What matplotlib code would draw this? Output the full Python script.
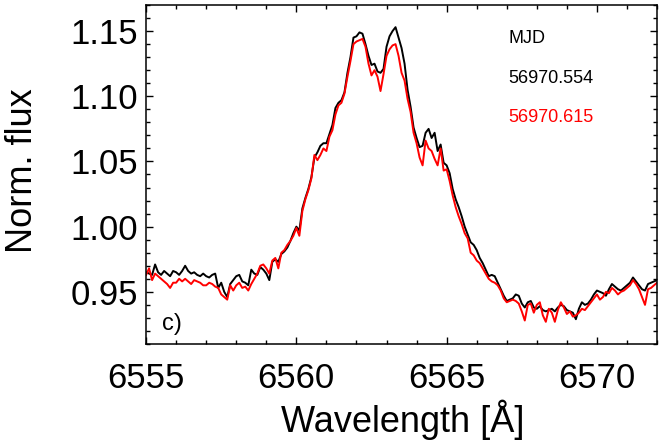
import numpy as np
import matplotlib
matplotlib.use("Agg")
import matplotlib.pyplot as plt
from matplotlib.ticker import MultipleLocator

# wavelength grid (Angstrom), 0.1 A sampling
wave = np.round(np.arange(6555.0, 6572.05, 0.1), 1)

# MJD 56970.554 (black)
flux_554 = [
    0.965, 0.964, 0.963, 0.971, 0.965, 0.963, 0.966, 0.964, 0.962, 0.966,
    0.965, 0.963, 0.966, 0.970, 0.966, 0.964, 0.965, 0.963, 0.962, 0.964,
    0.962, 0.961, 0.963, 0.964, 0.953, 0.957, 0.950, 0.946, 0.956, 0.959,
    0.962, 0.963, 0.958, 0.957, 0.955, 0.967, 0.964, 0.963, 0.969, 0.967,
    0.964, 0.959, 0.973, 0.975, 0.973, 0.979, 0.981, 0.984, 0.989, 0.995,
    1.000, 0.997, 1.014, 1.022, 1.029, 1.038, 1.053, 1.057, 1.062, 1.064,
    1.064, 1.071, 1.078, 1.091, 1.095, 1.097, 1.103, 1.118, 1.130, 1.145,
    1.146, 1.149, 1.148, 1.140, 1.131, 1.124, 1.125, 1.119, 1.118, 1.121,
    1.138, 1.146, 1.150, 1.153, 1.145, 1.137, 1.125, 1.105, 1.092, 1.076,
    1.068, 1.061, 1.062, 1.072, 1.075, 1.068, 1.072, 1.058, 1.063, 1.049,
    1.047, 1.041, 1.029, 1.021, 1.015, 1.008, 1.000, 0.994, 0.988, 0.986,
    0.982, 0.976, 0.972, 0.967, 0.962, 0.963, 0.962, 0.957, 0.952, 0.947,
    0.943, 0.944, 0.945, 0.948, 0.947, 0.941, 0.938, 0.942, 0.943, 0.938,
    0.937, 0.939, 0.936, 0.935, 0.936, 0.937, 0.935, 0.938, 0.940, 0.939,
    0.936, 0.935, 0.934, 0.929, 0.937, 0.942, 0.940, 0.941, 0.944, 0.948,
    0.951, 0.950, 0.949, 0.947, 0.952, 0.956, 0.954, 0.952, 0.951, 0.953,
    0.955, 0.957, 0.961, 0.958, 0.955, 0.952, 0.951, 0.956, 0.957, 0.958,
    0.959,
]

# MJD 56970.615 (red)
flux_615 = [
    0.963, 0.968, 0.959, 0.964, 0.962, 0.960, 0.958, 0.956, 0.953, 0.957,
    0.957, 0.960, 0.958, 0.960, 0.958, 0.956, 0.959, 0.958, 0.957, 0.955,
    0.955, 0.957, 0.956, 0.954, 0.953, 0.948, 0.946, 0.944, 0.955, 0.951,
    0.955, 0.957, 0.953, 0.954, 0.951, 0.956, 0.960, 0.964, 0.970, 0.971,
    0.968, 0.964, 0.974, 0.976, 0.968, 0.980, 0.982, 0.986, 0.989, 0.993,
    0.999, 0.993, 1.012, 1.021, 1.028, 1.037, 1.055, 1.051, 1.055, 1.060,
    1.058, 1.069, 1.074, 1.086, 1.093, 1.095, 1.102, 1.115, 1.127, 1.140,
    1.142, 1.143, 1.144, 1.138, 1.125, 1.116, 1.120, 1.115, 1.104, 1.117,
    1.131, 1.136, 1.139, 1.140, 1.131, 1.118, 1.112, 1.098, 1.088, 1.072,
    1.064, 1.053, 1.047, 1.066, 1.060, 1.058, 1.052, 1.047, 1.060, 1.043,
    1.044, 1.035, 1.024, 1.015, 1.008, 1.002, 0.995, 0.991, 0.980, 0.978,
    0.974, 0.972, 0.968, 0.964, 0.960, 0.958, 0.957, 0.955, 0.951, 0.945,
    0.942, 0.943, 0.944, 0.943, 0.941, 0.935, 0.928, 0.940, 0.941, 0.934,
    0.940, 0.942, 0.932, 0.927, 0.937, 0.934, 0.927, 0.936, 0.942, 0.938,
    0.933, 0.935, 0.931, 0.932, 0.934, 0.937, 0.936, 0.939, 0.942, 0.945,
    0.948, 0.944, 0.946, 0.950, 0.949, 0.953, 0.951, 0.948, 0.950, 0.951,
    0.953, 0.955, 0.959, 0.956, 0.952, 0.946, 0.940, 0.952, 0.953, 0.955,
    0.957,
]

legend_title = "MJD"
labels = ["56970.554", "56970.615"]
colors = ["black", "red"]

plt.rcParams.update({
    "font.family": ["Liberation Sans", "DejaVu Sans"],
})

fig = plt.figure(figsize=(6.64, 4.43), dpi=100)
ax = fig.add_axes([0.220, 0.2235, 0.7695, 0.7652])

ax.plot(wave, flux_554, color=colors[0], lw=1.4)
ax.plot(wave, flux_615, color=colors[1], lw=1.4)

ax.set_xlim(6555, 6572)
ax.set_ylim(0.91, 1.17)

ax.xaxis.set_major_locator(MultipleLocator(5))
ax.xaxis.set_minor_locator(MultipleLocator(1))
ax.yaxis.set_major_locator(MultipleLocator(0.05))
ax.yaxis.set_minor_locator(MultipleLocator(0.01))
ax.yaxis.set_major_formatter(matplotlib.ticker.FormatStrFormatter("%.2f"))

for spine in ax.spines.values():
    spine.set_linewidth(1.1)
ax.tick_params(which="both", direction="in", top=True, right=True, width=1.0)
ax.tick_params(which="major", length=5, labelsize=25)
ax.tick_params(axis="x", which="major", pad=13)
ax.tick_params(axis="y", which="major", pad=6)
ax.tick_params(which="minor", length=2.8)

fig.text(0.607, 0.025, "Wavelength [Å]", fontsize=26, ha="center", va="baseline")
fig.text(0.034, 0.614, "Norm. flux", fontsize=26, rotation=90, ha="center", va="center")

# MJD legend as plain text
ax.text(0.709, 0.901, legend_title, transform=ax.transAxes, fontsize=13,
        color="black", va="center", ha="left")
ax.text(0.709, 0.782, labels[0], transform=ax.transAxes, fontsize=13,
        color=colors[0], va="center", ha="left")
ax.text(0.709, 0.667, labels[1], transform=ax.transAxes, fontsize=13,
        color=colors[1], va="center", ha="left")

ax.text(0.031, 0.04, "c)", transform=ax.transAxes, fontsize=17, va="baseline")

fig.savefig("out.png", dpi=100)
